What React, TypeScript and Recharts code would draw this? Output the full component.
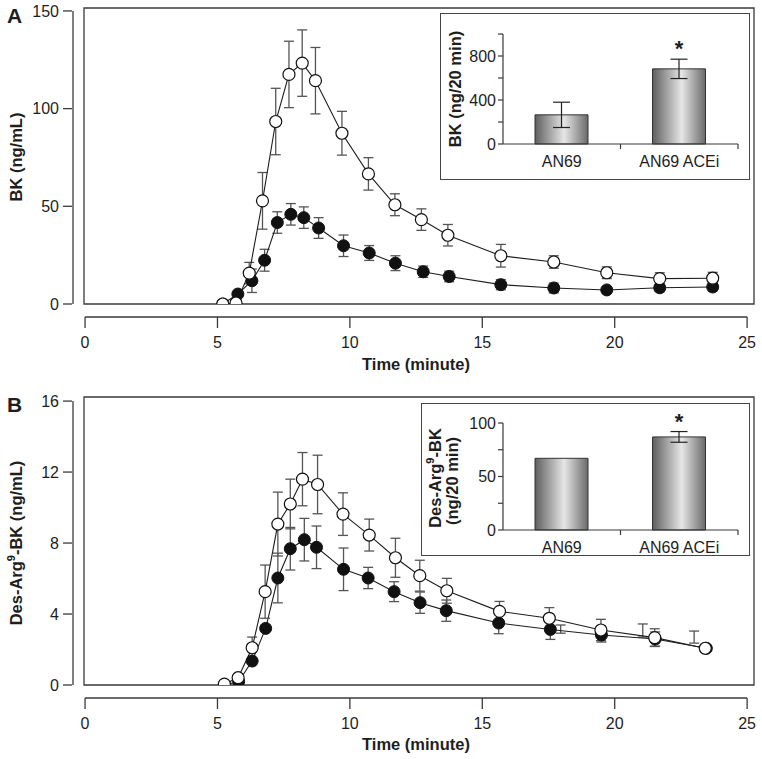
import React from "react";
import {
  ComposedChart,
  Line,
  XAxis,
  YAxis,
  ErrorBar,
  ReferenceLine,
  ReferenceArea,
  BarChart,
  Bar,
  LabelList,
} from "recharts";

const FONT = '"Liberation Sans", Arial, Helvetica, sans-serif';
const INK = "#1e1e1e";
const AXIS = "#3a3a3a";
const ERR = "#555555";

// ---- panel A: BK (ng/mL) vs time ----
const timeOpenA = [5.2, 5.7, 6.2, 6.7, 7.2, 7.7, 8.2, 8.7, 9.7, 10.7, 11.7, 12.7, 13.7, 15.7, 17.7, 19.7, 21.7, 23.7];
const bkOpen = [0, 0.5, 15.8, 52.8, 93.4, 117.5, 123.3, 114.3, 87.4, 66.6, 50.8, 43.2, 35.2, 24.7, 21.5, 16, 13, 13.2];
const bkOpenErr = [0, 0, 5.5, 14.5, 17, 17, 17, 17, 11.2, 8.3, 5.6, 5.5, 5.5, 5.8, 3.2, 3, 3, 3];

const timeFilledA = [5.2, 5.77, 6.3, 6.78, 7.26, 7.77, 8.26, 8.82, 9.76, 10.73, 11.72, 12.77, 13.75, 15.7, 17.7, 19.7, 21.7, 23.7];
const bkFilled = [0, 5.1, 11.9, 22.4, 41.7, 45.9, 44.2, 38.9, 29.8, 26.1, 20.9, 16.5, 14.1, 9.9, 8.2, 7.2, 8.3, 8.7];
const bkFilledErr = [0, 0, 6, 5.6, 5.5, 5.5, 5.5, 5.3, 5.5, 3.8, 3.8, 2.9, 2.7, 2.6, 2.5, 1.5, 2, 2];

// ---- panel B: Des-Arg9-BK (ng/mL) vs time ----
const timeOpenB = [5.26, 5.78, 6.31, 6.8, 7.28, 7.75, 8.21, 8.78, 9.74, 10.73, 11.72, 12.64, 13.66, 15.65, 17.53, 19.48, 21.51, 23.42];
const desOpen = [0.05, 0.41, 2.1, 5.26, 9.07, 10.2, 11.6, 11.3, 9.63, 8.45, 7.17, 6.16, 5.31, 4.15, 3.76, 3.1, 2.67, 2.07];
const desOpenErr = [0, 0, 0.6, 1.5, 1.8, 1.4, 1.5, 1.65, 1.2, 0.9, 1.1, 0.87, 0.7, 0.56, 0.6, 0.6, 0.5, 0];

const timeFilledB = [5.26, 5.8, 6.31, 6.82, 7.28, 7.75, 8.28, 8.74, 9.76, 10.69, 11.67, 12.65, 13.64, 15.62, 17.57, 19.5, 21.53, 23.46];
const desFilled = [0, 0.2, 1.35, 3.19, 6.03, 7.68, 8.19, 7.76, 6.52, 6.03, 5.26, 4.64, 4.19, 3.49, 3.13, 2.82, 2.59, 2.07];
const desFilledErr = [0, 0, 0, 0, 1.4, 1.2, 1.2, 1.2, 1.2, 0.6, 0.56, 0.6, 0.6, 0.6, 0.56, 0.4, 0.4, 0];

// error bars in the original drawn slightly off their points
const timeStrayB = [17.96, 21.06, 23.0];
const desStray = [3.15, 3.07, 2.7];
const desStrayErr = [0.23, 0.37, 0.34];

const TIME_TICKS = [0, 5, 10, 15, 20, 25];
const BK_TICKS = [0, 50, 100, 150];
const DES_TICKS = [0, 4, 8, 12, 16];

// ---- insets: totals over 20 min ----
const groups = ["AN69", "AN69 ACEi"];
const bkTotal = [265, 683];
const bkTotalErr = [115, 88];
const desTotal = [67, 87];
const desTotalErr = [0, 5];
const stars = ["", "*"];
const BK_TOTAL_TICKS = [0, 200, 400, 600, 800, 1000];
const BK_TOTAL_LABELS = [0, 400, 800];
const DES_TOTAL_TICKS = [0, 25, 50, 75, 100];
const DES_TOTAL_LABELS = [0, 50, 100];

// layout of the two time-course panels
const CHART_W = 762;
const PLOT_LEFT = 84;
const PLOT_RIGHT_MARGIN = 8;
const PLOT_W = CHART_W - PLOT_LEFT - PLOT_RIGHT_MARGIN;
const X_MIN = -0.04;
const X_MAX = 25.26;
const PX_PER_MIN = PLOT_W / (X_MAX - X_MIN);
const AXIS_GAP = 12; // axes sit detached from the frame

type Row = { t: number; v: number; e: number };

function toRows(t: number[], v: number[], e: number[]): Row[] {
  return t.map((tt, i) => ({ t: tt, v: v[i], e: e[i] }));
}

function TimeTick(props: any) {
  const { x, y, payload } = props;
  return (
    <g>
      <line x1={x} x2={x} y1={y + 13} y2={y + 24} stroke={AXIS} strokeWidth={1.3} />
      <text x={x} y={y + 44} textAnchor="middle" fontSize={16} fill={INK} fontFamily={FONT}>
        {payload.value}
      </text>
    </g>
  );
}

function ValueTick(props: any) {
  const { x, y, payload } = props;
  return (
    <g>
      <line x1={x - 21} x2={x - AXIS_GAP} y1={y} y2={y} stroke={AXIS} strokeWidth={1.3} />
      <text x={x - 25} y={y + 5.8} textAnchor="end" fontSize={16} fill={INK} fontFamily={FONT}>
        {payload.value}
      </text>
    </g>
  );
}

interface PanelProps {
  top: number;
  plotH: number;
  yMax: number;
  yTop: number;
  yTicks: number[];
  open: Row[];
  filled: Row[];
  stray?: Row[];
}

function TimePanel({ top, plotH, yMax, yTop, yTicks, open, filled, stray }: PanelProps) {
  const xAxisH = 66;
  const height = 8 + plotH + xAxisH;
  const yGap = (-(AXIS_GAP + 1) * yMax) / plotH;
  const xGap = X_MIN - (AXIS_GAP - 1) / PX_PER_MIN;
  return (
    <div style={{ position: "absolute", left: 0, top }}>
      <ComposedChart width={CHART_W} height={height} margin={{ top: 8, right: PLOT_RIGHT_MARGIN, left: 0, bottom: 0 }}>
        <XAxis
          type="number"
          dataKey="t"
          domain={[X_MIN, X_MAX]}
          allowDataOverflow
          ticks={TIME_TICKS}
          axisLine={false}
          tickLine={false}
          tickSize={0}
          tickMargin={0}
          height={xAxisH}
          tick={<TimeTick />}
        />
        <YAxis
          type="number"
          domain={[0, yMax]}
          allowDataOverflow
          ticks={yTicks}
          axisLine={false}
          tickLine={false}
          tickSize={0}
          tickMargin={0}
          width={PLOT_LEFT}
          tick={<ValueTick />}
        />
        <ReferenceArea x1={X_MIN} x2={X_MAX} y1={0} y2={yMax} fill="none" fillOpacity={0} stroke={AXIS} strokeWidth={1.3} />
        <ReferenceLine
          segment={[{ x: 0, y: yGap }, { x: 25, y: yGap }]}
          ifOverflow="visible"
          stroke={AXIS}
          strokeWidth={1.3}
        />
        <ReferenceLine
          segment={[{ x: xGap, y: 0 }, { x: xGap, y: yTop }]}
          ifOverflow="visible"
          stroke={AXIS}
          strokeWidth={1.3}
        />
        {stray && (
          <Line data={stray} dataKey="v" stroke="none" dot={false} isAnimationActive={false}>
            <ErrorBar dataKey="e" direction="y" width={5} stroke={ERR} strokeWidth={1.3} />
          </Line>
        )}
        <Line
          data={filled}
          dataKey="v"
          stroke={INK}
          strokeWidth={1.1}
          dot={{ r: 6, fill: "#111", stroke: "#111", strokeWidth: 1 }}
          isAnimationActive={false}
        >
          <ErrorBar dataKey="e" direction="y" width={5} stroke={ERR} strokeWidth={1.3} />
        </Line>
        <Line
          data={open}
          dataKey="v"
          stroke={INK}
          strokeWidth={1.1}
          dot={{ r: 6, fill: "#fff", stroke: "#111", strokeWidth: 1.2 }}
          isAnimationActive={false}
        >
          <ErrorBar dataKey="e" direction="y" width={5} stroke={ERR} strokeWidth={1.3} />
        </Line>
      </ComposedChart>
    </div>
  );
}

interface InsetProps {
  left: number;
  top: number;
  width: number;
  height: number;
  plotLeft: number;
  plotTop: number;
  xAxisH: number;
  values: number[];
  errs: number[];
  yMax: number;
  ticks: number[];
  labels: number[];
  gradId: string;
}

function Inset({ left, top, width, height, plotLeft, plotTop, xAxisH, values, errs, yMax, ticks, labels, gradId }: InsetProps) {
  const rows = groups.map((g, i) => ({ g, v: values[i], e: errs[i], s: stars[i] }));
  const rightM = 11;
  const innerW = width - 2;
  const innerH = height - 2;
  const halfBand = (innerW - plotLeft - rightM) / groups.length / 2;

  const GroupTick = (p: any) => (
    <g>
      <line x1={p.x + halfBand} x2={p.x + halfBand} y1={p.y} y2={p.y + 5} stroke={AXIS} strokeWidth={1.2} />
      <text x={p.x} y={p.y + 23} textAnchor="middle" fontSize={16} fill={INK} fontFamily={FONT}>
        {p.payload.value}
      </text>
    </g>
  );

  const Star = (p: any) => {
    const vb = p.viewBox ?? p;
    const idx = p.index ?? 0;
    const row = rows[idx];
    if (!row || !row.s) return null;
    const pxPerUnit = vb.height / row.v;
    const errTop = vb.y - row.e * pxPerUnit;
    return (
      <text x={vb.x + vb.width / 2} y={errTop - 3} textAnchor="middle" fontSize={22} fontWeight="bold" fill={INK} fontFamily={FONT}>
        {row.s}
      </text>
    );
  };

  return (
    <div
      style={{
        position: "absolute",
        left,
        top,
        width: innerW,
        height: innerH,
        border: "1px solid #444",
        background: "#fff",
      }}
    >
      <BarChart width={innerW} height={innerH} data={rows} margin={{ top: plotTop, right: rightM, left: 0, bottom: 0 }}>
        <defs>
          <linearGradient id={gradId} x1="0" y1="0" x2="1" y2="0">
            <stop offset="0" stopColor="#5f5f5f" />
            <stop offset="0.55" stopColor="#e6e6e6" />
            <stop offset="1" stopColor="#6a6a6a" />
          </linearGradient>
        </defs>
        <XAxis
          dataKey="g"
          height={xAxisH}
          axisLine={{ stroke: AXIS, strokeWidth: 1.2 }}
          tickLine={false}
          tickSize={0}
          tickMargin={0}
          interval={0}
          tick={<GroupTick />}
        />
        <YAxis
          type="number"
          domain={[0, yMax]}
          ticks={ticks}
          width={plotLeft}
          axisLine={{ stroke: AXIS, strokeWidth: 1.2 }}
          tickLine={{ stroke: AXIS, strokeWidth: 1.2 }}
          tickSize={5}
          tickMargin={2}
          tickFormatter={(v: number) => (labels.includes(v) ? String(v) : "")}
          tick={{ fontSize: 16, fill: INK, fontFamily: FONT }}
        />
        <Bar dataKey="v" barSize={53} fill={`url(#${gradId})`} stroke="#333" strokeWidth={1} isAnimationActive={false}>
          <ErrorBar dataKey="e" direction="y" width={8.5} stroke="#222" strokeWidth={1.2} />
          <LabelList dataKey="s" content={<Star />} />
        </Bar>
      </BarChart>
    </div>
  );
}

const bold = { fontFamily: FONT, fontWeight: "bold" as const, fill: INK };

export default function App() {
  return (
    <div style={{ position: "absolute", left: 0, top: 0, width: 762, height: 759, background: "#fff" }}>
      <TimePanel
        top={0}
        plotH={296}
        yMax={151.5}
        yTop={150}
        yTicks={BK_TICKS}
        open={toRows(timeOpenA, bkOpen, bkOpenErr)}
        filled={toRows(timeFilledA, bkFilled, bkFilledErr)}
      />
      <TimePanel
        top={389}
        plotH={288}
        yMax={16.23}
        yTop={16}
        yTicks={DES_TICKS}
        open={toRows(timeOpenB, desOpen, desOpenErr)}
        filled={toRows(timeFilledB, desFilled, desFilledErr)}
        stray={toRows(timeStrayB, desStray, desStrayErr)}
      />
      <Inset
        left={440}
        top={13}
        width={310}
        height={167}
        plotLeft={62}
        plotTop={20}
        xAxisH={35}
        values={bkTotal}
        errs={bkTotalErr}
        yMax={1000}
        ticks={BK_TOTAL_TICKS}
        labels={BK_TOTAL_LABELS}
        gradId="gradA"
      />
      <Inset
        left={421}
        top={403}
        width={329}
        height={153}
        plotLeft={81}
        plotTop={19}
        xAxisH={25}
        values={desTotal}
        errs={desTotalErr}
        yMax={100}
        ticks={DES_TOTAL_TICKS}
        labels={DES_TOTAL_LABELS}
        gradId="gradB"
      />
      {/* titles and panel letters */}
      <svg width={762} height={759} style={{ position: "absolute", left: 0, top: 0, pointerEvents: "none" }}>
        <text x={7} y={23} fontSize={21} {...bold}>A</text>
        <text x={7} y={412} fontSize={21} {...bold}>B</text>
        <text x={22} y={157} fontSize={16.5} textAnchor="middle" transform="rotate(-90 22 157)" {...bold}>
          BK (ng/mL)
        </text>
        <text x={22} y={543} fontSize={16.5} textAnchor="middle" transform="rotate(-90 22 543)" {...bold}>
          Des-Arg<tspan fontSize={11} dy={-7}>9</tspan>
          <tspan dy={7}>-BK (ng/mL)</tspan>
        </text>
        <text x={416} y={370} fontSize={16.5} textAnchor="middle" {...bold}>Time (minute)</text>
        <text x={416} y={750} fontSize={16.5} textAnchor="middle" {...bold}>Time (minute)</text>
        <text x={461} y={89} fontSize={16.5} textAnchor="middle" transform="rotate(-90 461 89)" {...bold}>
          BK (ng/20 min)
        </text>
        <text x={441} y={478} fontSize={16.5} textAnchor="middle" transform="rotate(-90 441 478)" {...bold}>
          Des-Arg<tspan fontSize={11} dy={-7}>9</tspan>
          <tspan dy={7}>-BK</tspan>
        </text>
        <text x={458} y={481} fontSize={16.5} textAnchor="middle" transform="rotate(-90 458 481)" {...bold}>
          (ng/20 min)
        </text>
      </svg>
    </div>
  );
}
